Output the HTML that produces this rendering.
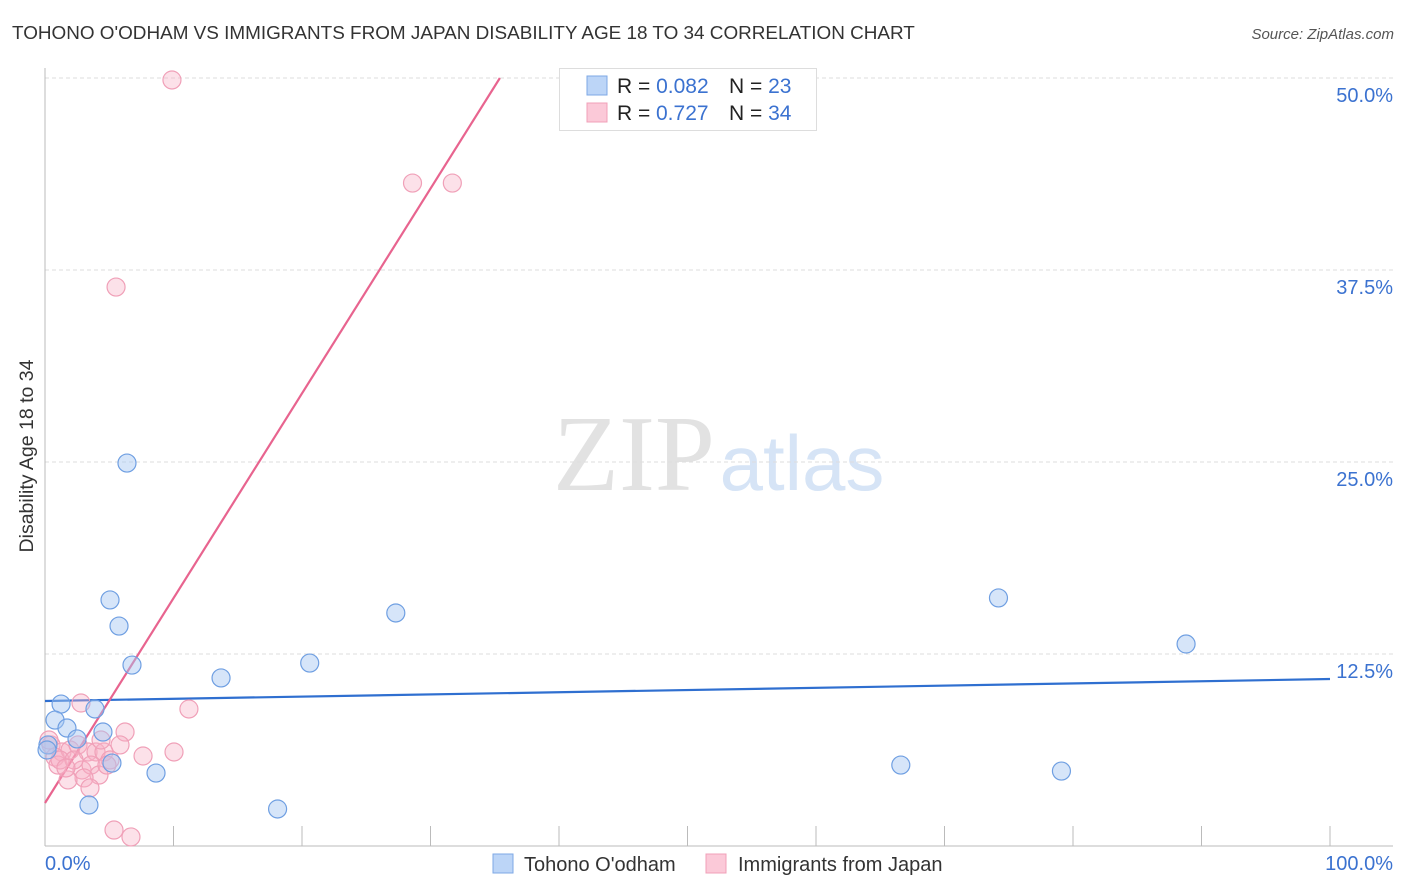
<!DOCTYPE html>
<html><head><meta charset="utf-8"><style>
body{margin:0;background:#fff;font-family:"Liberation Sans",sans-serif;}
svg{display:block}
</style></head><body>
<svg id="chart" width="1406" height="892">
<text x="12" y="39" font-size="18.9" fill="#333">TOHONO O'ODHAM VS IMMIGRANTS FROM JAPAN DISABILITY AGE 18 TO 34 CORRELATION CHART</text>
<text x="1394" y="39" font-size="15" fill="#555" font-style="italic" text-anchor="end">Source: ZipAtlas.com</text>
<text transform="translate(33,456) rotate(-90)" font-size="19.5" fill="#333" text-anchor="middle">Disability Age 18 to 34</text>
<g><text x="634" y="490" font-size="108" font-family="Liberation Serif,serif" fill="#e2e2e2" text-anchor="middle">ZIP</text><text x="802" y="490" font-size="78" fill="#d6e4f6" text-anchor="middle">atlas</text></g>
<g id="grid"></g><g id="axes"></g><g id="lines"></g><g id="pts"></g>
<g>
<rect x="559.5" y="68.5" width="257" height="62" fill="#fff" stroke="#ddd"/>
<rect x="587" y="76" width="20" height="19" fill="#bcd5f7" stroke="#7ea8e6"/>
<rect x="587" y="103" width="20" height="19" fill="#fbc9d8" stroke="#f0a0b8"/>
<text x="617" y="93" font-size="21" fill="#222">R = <tspan fill="#3b72d0">0.082</tspan><tspan x="729">N = </tspan><tspan fill="#3b72d0">23</tspan></text>
<text x="617" y="120" font-size="21" fill="#222">R = <tspan fill="#3b72d0" x="656">0.727</tspan><tspan x="729">N = </tspan><tspan fill="#3b72d0">34</tspan></text>
</g>
<g>
<rect x="493" y="854" width="20" height="19" fill="#bcd5f7" stroke="#7ea8e6"/>
<text x="524" y="871" font-size="20" fill="#333">Tohono O'odham</text>
<rect x="706" y="854" width="20" height="19" fill="#fbc9d8" stroke="#f0a0b8"/>
<text x="738" y="871" font-size="20" fill="#333">Immigrants from Japan</text>
</g>
</svg>
<script>
const xTickLabels=["0.0%","100.0%"];
const yTicks=[12.5,25,37.5,50];
const yTickLabels=["12.5%","25.0%","37.5%","50.0%"];
const blueX=[1.25,0.78,1.71,2.49,3.89,4.51,5.21,0.23,6.38,5.06,5.76,6.77,8.64,3.42,13.7,20.6,27.3,18.1,66.6,74.2,79.1,88.8,0.16];
const blueY=[9.24,8.2,7.68,6.97,8.92,7.42,5.4,6.58,24.93,16.02,14.32,11.78,4.75,2.67,10.94,11.91,15.17,2.41,5.27,16.15,4.88,13.15,6.25];
const pinkX=[9.88,28.6,31.7,5.53,2.8,11.2,6.23,0.47,1.32,0.78,1.01,1.95,2.57,3.35,3.97,4.59,5.06,2.88,3.58,4.2,3.04,1.79,3.5,7.63,10.04,5.37,6.69,1.17,2.26,4.36,4.82,0.31,1.63,5.84];
const pinkY=[49.87,43.16,43.16,36.39,9.31,8.92,7.42,6.58,6.12,5.79,5.27,6.25,6.58,6.12,6.12,6.12,5.6,4.95,5.27,4.62,4.43,4.3,3.78,5.86,6.12,1.04,0.59,5.6,5.6,6.9,5.27,6.9,5.08,6.58];
const blueLine=[[0,9.44],[100,10.87]];
const pinkLine=[[0,2.8],[35.4,50]];
const NS="http://www.w3.org/2000/svg";
const X=v=>45+v*12.85, Y=v=>846-v*15.36;
function mk(t,a,p){const e=document.createElementNS(NS,t);for(const k in a)e.setAttribute(k,a[k]);p.appendChild(e);return e;}
const grid=document.getElementById('grid'),axes=document.getElementById('axes');
yTicks.forEach((t,i)=>{
 const l=mk('line',{x1:45,x2:1393,y1:Y(t),y2:Y(t),stroke:'#ddd','stroke-dasharray':'4,3'},grid);
 
 
 const tx=mk('text',{x:1393,y:Y(t)+24,'font-size':20,fill:'#3b72d0','text-anchor':'end'},axes);
 tx.textContent=yTickLabels[i];
 
 
});
mk('line',{x1:45,x2:45,y1:68,y2:846,stroke:'#bbb'},axes);
mk('line',{x1:45,x2:1393,y1:846,y2:846,stroke:'#bbb'},axes);
for(let i=1;i<=10;i++){const t=mk('line',{x1:X(i*10),x2:X(i*10),y1:826,y2:846,stroke:'#bbb'},axes);
 
 }
[[0,'start',45],[100,'end',1393]].forEach((d,i)=>{const t=mk('text',{x:d[2],y:870,'font-size':20,fill:'#3b72d0','text-anchor':d[1]},axes);t.textContent=xTickLabels[i];
 
 });
const pts=document.getElementById('pts');
function dots(xs,ys,f,s,name){xs.forEach((x,i)=>{const c=mk('circle',{cx:X(x),cy:Y(ys[i]),r:9,fill:f,stroke:s,'stroke-width':1.2},pts);
 
 });}
dots(pinkX,pinkY,'rgba(247,175,198,0.38)','#f0a0b8','japan-point');
dots(blueX,blueY,'rgba(165,198,242,0.45)','#6f9fe2','tohono-point');
const lines=document.getElementById('lines');
const bl=mk('line',{x1:X(blueLine[0][0]),y1:Y(blueLine[0][1]),x2:X(blueLine[1][0]),y2:Y(blueLine[1][1]),stroke:'#2f6fd0','stroke-width':2.2},lines);


const pl=mk('line',{x1:X(pinkLine[0][0]),y1:Y(pinkLine[0][1]),x2:X(pinkLine[1][0]),y2:Y(pinkLine[1][1]),stroke:'#e8648f','stroke-width':2.2},lines);


</script>
</body></html>
